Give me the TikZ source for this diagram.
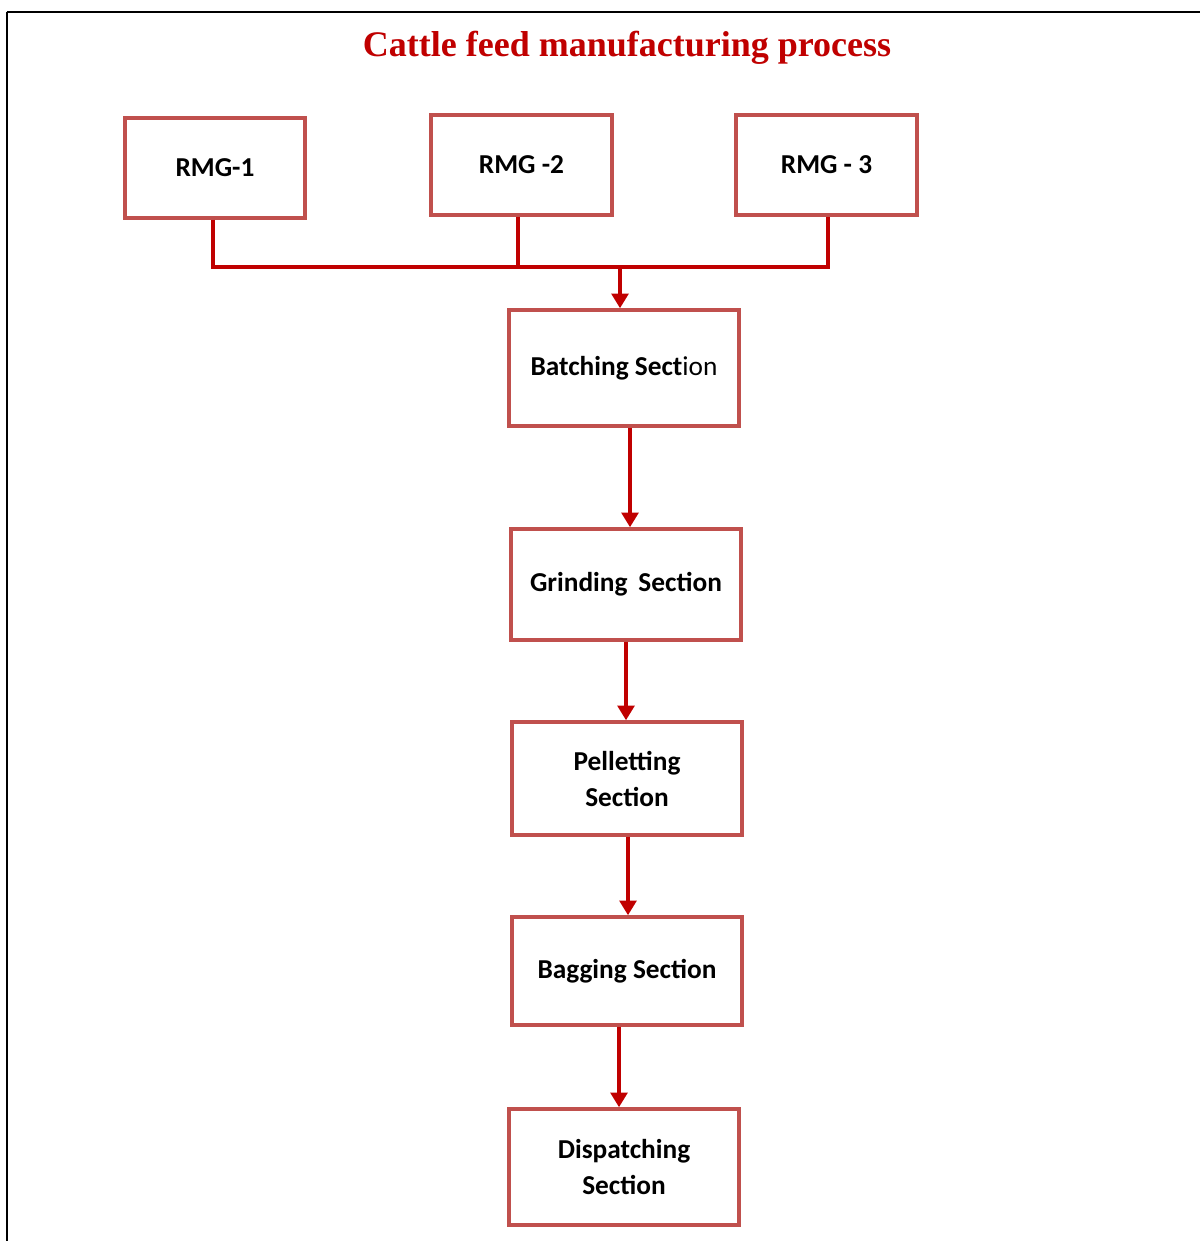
\documentclass[tikz,border=0pt]{standalone}
\usepackage{fontspec}
\setmainfont{Carlito}
\newfontfamily\titlefont{Liberation Serif}
\usetikzlibrary{arrows.meta}
\definecolor{boxred}{HTML}{C0504D}
\definecolor{linered}{HTML}{C00000}
\tikzset{
  procbox/.style={draw=boxred, line width=2.6pt, fill=white, align=center,
    font=\fontsize{20.5}{27}\selectfont\bfseries, inner sep=0pt},
  conn/.style={draw=linered, line width=2.8pt},
  arr/.style={conn, -{Triangle[width=12.5pt,length=11pt]}},
}
\begin{document}
\begin{tikzpicture}[x=0.75pt,y=-0.75pt]
\useasboundingbox (0,0) rectangle (1200,1241);
\fill[white] (0,0) rectangle (1200,1241);
\draw[line width=1.2pt] (7,1241) -- (7,12);
\draw[line width=1.8pt] (6.5,12) -- (1200,12);
\node[text=linered, font=\titlefont\fontsize{27}{30}\selectfont\bfseries] (title) at (627,48) {Cattle feed manufacturing process};
\node[procbox, minimum width=135pt, minimum height=75pt] (r1) at (215,168) {RMG-1};
\node[procbox, minimum width=135.75pt, minimum height=75pt] (r2) at (521.5,165) {RMG -2};
\node[procbox, minimum width=135.75pt, minimum height=75pt] (r3) at (826.5,165) {RMG - 3};
\node[procbox, minimum width=172.5pt, minimum height=87pt] (b1) at (624,368) {Batching Sect\mdseries ion};
\node[procbox, minimum width=172.5pt, minimum height=83.25pt] (b2) at (626,584.5) {Grinding\hspace{0.4em}Section};
\node[procbox, minimum width=172.5pt, minimum height=84.75pt] (b3) at (627,778.5) {Pelletting\\Section};
\node[procbox, minimum width=172.5pt, minimum height=81pt] (b4) at (627,971) {Bagging Section};
\node[procbox, minimum width=172.5pt, minimum height=87pt] (b5) at (624,1167) {Dispatching\\Section};
\coordinate (bus) at (620,267);
\coordinate (a1) at ([xshift=-1.5pt]r1.south);
\coordinate (a2) at ([xshift=-2.6pt]r2.south);
\coordinate (a3) at ([xshift=1.1pt]r3.south);
\draw[conn] (a1) |- (a3 |- bus) -- (a3);
\draw[conn] (a2) -- (a2 |- bus);
\draw[arr] (bus) -- (bus |- b1.north);
\draw[arr] ([xshift=4.5pt]b1.south) -- ([xshift=4.5pt]b1.south |- b2.north);
\draw[arr] (b2.south) -- (b2.south |- b3.north);
\draw[arr] ([xshift=0.75pt]b3.south) -- ([xshift=0.75pt]b3.south |- b4.north);
\draw[arr] ([xshift=-6pt]b4.south) -- ([xshift=-6pt]b4.south |- b5.north);
\end{tikzpicture}
\end{document}
